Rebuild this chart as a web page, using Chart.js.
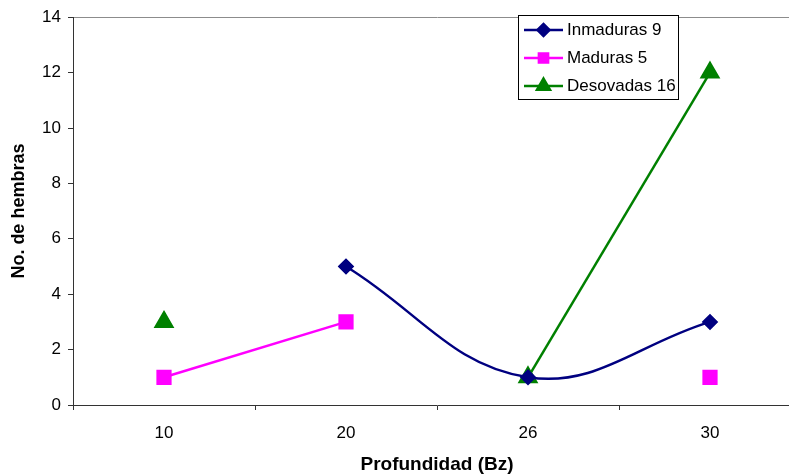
<!DOCTYPE html>
<html>
<head>
<meta charset="utf-8">
<script src="https://cdn.jsdelivr.net/npm/chart.js@4/dist/chart.umd.min.js"></script>
<style>
  html, body { margin: 0; padding: 0; background: #fff; overflow: hidden; }
  #wrap { width: 789px; height: 476px; overflow: hidden; position: relative; }
  #chart { display: block; }
</style>
</head>
<body>
<div id="wrap"><canvas id="chart" width="802" height="476"></canvas></div>
<script>
// profundidad categories
var categories = ['10', '20', '26', '30'];
// hembras per category (null = no point)
var inmaduras = [null, 5, 1, 3];
var maduras = [1, 3, null, 1];
var desovadas = [3, null, 1, 12];
var seriesNames = ['Inmaduras 9', 'Maduras 5', 'Desovadas 16'];
var yTitle = 'No. de hembras';
var xTitle = 'Profundidad (Bz)';

var FONT = "'Liberation Sans', Arial, sans-serif";

// legend box drawn inside the plot, like the excel one
var boxLegend = {
    id: 'boxLegend',
    afterDraw: function (chart) {
        var ctx = chart.ctx;
        var x0 = 518, y0 = 15, w = 160, h = 84;
        ctx.save();
        ctx.fillStyle = '#fff';
        ctx.fillRect(x0, y0, w, h);
        ctx.strokeStyle = '#000';
        ctx.lineWidth = 1;
        ctx.strokeRect(x0 + 0.5, y0 + 0.5, w, h);
        var rows = [30, 58, 86];
        chart.data.datasets.forEach(function (ds, i) {
            var y = rows[i];
            ctx.strokeStyle = ds.borderColor;
            ctx.lineWidth = 2.5;
            ctx.beginPath();
            ctx.moveTo(524, y);
            ctx.lineTo(563, y);
            ctx.stroke();
            ctx.fillStyle = ds.pointBackgroundColor;
            ctx.strokeStyle = ds.pointBorderColor;
            Chart.helpers.drawPoint(ctx, {
                pointStyle: ds.pointStyle,
                radius: ds.legendRadius,
                rotation: 0,
                borderWidth: 1
            }, 543.5, y);
            ctx.fillStyle = '#000';
            ctx.font = '17px ' + FONT;
            ctx.textBaseline = 'middle';
            ctx.textAlign = 'left';
            ctx.fillText(ds.label, 567, y);
        });
        ctx.restore();
    }
};

var ctx = document.getElementById('chart').getContext('2d');
var myChart = new Chart(ctx, {
    type: 'line',
    data: {
        labels: categories,
        datasets: [{
            label: seriesNames[0],
            data: inmaduras,
            borderColor: '#000080',
            backgroundColor: '#000080',
            pointBackgroundColor: '#000080',
            pointBorderColor: '#000080',
            pointStyle: 'rectRot',
            pointRadius: 6.5,
            legendRadius: 6,
            borderWidth: 2.5,
            tension: 0.4
        }, {
            label: seriesNames[1],
            data: maduras,
            borderColor: '#ff00ff',
            backgroundColor: '#ff00ff',
            pointBackgroundColor: '#ff00ff',
            pointBorderColor: '#ff00ff',
            pointStyle: 'rect',
            pointRadius: 9,
            legendRadius: 6.5,
            borderWidth: 2.5,
            tension: 0
        }, {
            label: seriesNames[2],
            data: desovadas,
            borderColor: '#008000',
            backgroundColor: '#008000',
            pointBackgroundColor: '#008000',
            pointBorderColor: '#008000',
            pointStyle: 'triangle',
            pointRadius: 9.5,
            legendRadius: 7.5,
            borderWidth: 2.5,
            tension: 0
        }]
    },
    options: {
        responsive: false,
        animation: false,
        spanGaps: false,
        devicePixelRatio: 1,
        // canvas is wider than the window: plot runs past the right edge
        layout: { autoPadding: false, padding: { top: 16, right: 1, left: 0, bottom: 0 } },
        plugins: {
            legend: { display: false },
            tooltip: { enabled: false }
        },
        scales: {
            x: {
                offset: true,
                grid: {
                    offset: true,
                    drawOnChartArea: false,
                    tickLength: 5,
                    tickColor: '#333'
                },
                border: { color: '#333', width: 1 },
                ticks: {
                    color: '#000',
                    padding: 13,
                    font: { family: FONT, size: 17 }
                },
                title: {
                    display: true,
                    text: xTitle,
                    color: '#000',
                    padding: { top: 0, bottom: 0 },
                    font: { family: FONT, size: 19, weight: 'bold' }
                },
                afterFit: function (scale) { scale.height = 71; }
            },
            y: {
                min: 0,
                max: 14,
                ticks: {
                    stepSize: 2,
                    color: '#000',
                    padding: 7,
                    font: { family: FONT, size: 17 }
                },
                grid: {
                    tickLength: 5,
                    tickColor: '#333',
                    color: function (c) {
                        return c.tick && c.tick.value === 14 ? '#8c8c8c' : 'rgba(0,0,0,0)';
                    }
                },
                border: { color: '#333', width: 1 },
                title: {
                    display: true,
                    text: yTitle,
                    color: '#000',
                    padding: { top: 8, bottom: 0 },
                    font: { family: FONT, size: 18, weight: 'bold' }
                },
                afterFit: function (scale) { scale.width = 73; }
            }
        }
    },
    plugins: [boxLegend]
});
</script>
</body>
</html>
